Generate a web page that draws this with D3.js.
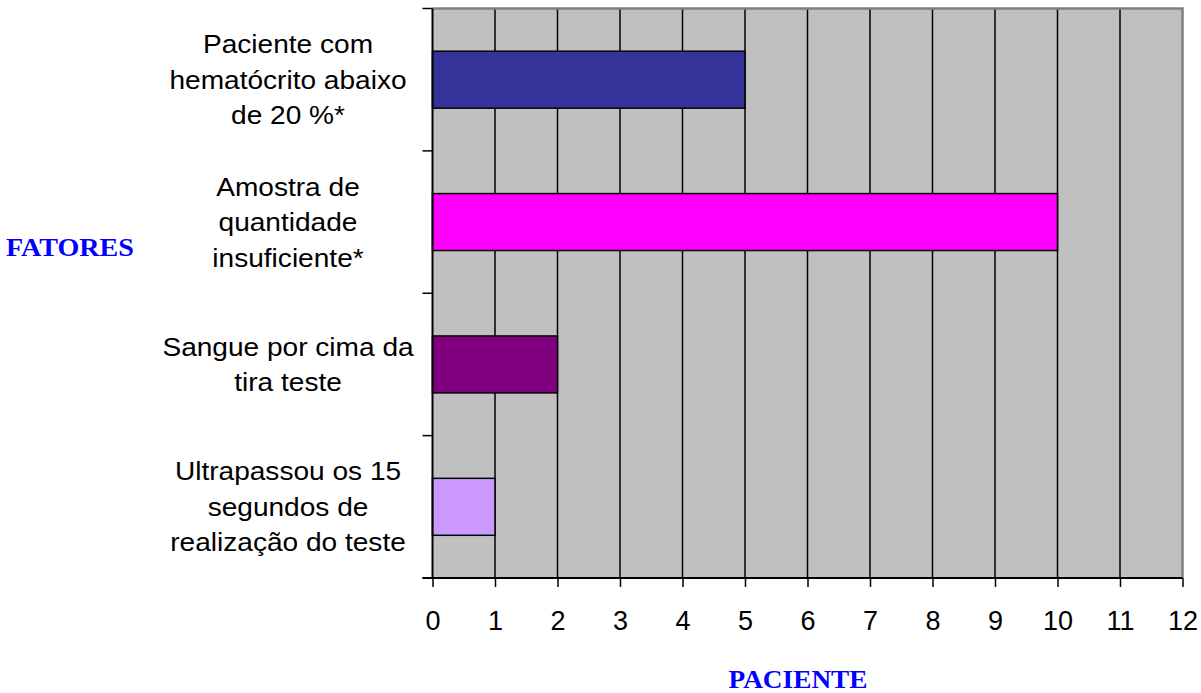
<!DOCTYPE html>
<html><head><meta charset="utf-8">
<script src="https://cdn.jsdelivr.net/npm/d3@7"></script>
<style>html,body{margin:0;padding:0;background:#fff;}svg{display:block;}</style>
</head><body>
<svg id="chart" width="1201" height="693"></svg>
<script>
const categories = [
  ["Paciente com","hematócrito abaixo","de 20 %*"],
  ["Amostra de","quantidade","insuficiente*"],
  ["Sangue por cima da","tira teste"],
  ["Ultrapassou os 15","segundos de","realização do teste"]
];
const values = [5, 10, 2, 1];
const barColors = ["#333399", "#FF00FF", "#800080", "#CC99FF"];
const xTicks = [0,1,2,3,4,5,6,7,8,9,10,11,12];
const xTitle = "PACIENTE";
const yTitle = "FATORES";

const svg = d3.select("#chart");
const L = 432.5, R = 1182.5, T = 8.5, B = 578;
const SX = 1.08;
const x = d3.scaleLinear().domain([0, 12]).range([L, R]);
const y = d3.scaleBand().domain(d3.range(categories.length)).range([T, B]).padding(0);
const bw = y.bandwidth();

// background
svg.append("rect").attr("x", L).attr("y", T).attr("width", R - L).attr("height", B - T).attr("fill", "#C0C0C0");

// grid
svg.append("g").selectAll("line").data(xTicks.slice(1, -1)).join("line")
  .attr("x1", d => x(d)).attr("x2", d => x(d)).attr("y1", T).attr("y2", B)
  .attr("stroke", "#000").attr("stroke-width", 1.5);

// border top/right
svg.append("path").attr("d", `M${L},${T}H${R}V${B}`).attr("fill", "none").attr("stroke", "#808080").attr("stroke-width", 2.5);

// bars
svg.append("g").selectAll("rect").data(values).join("rect")
  .attr("x", x(0)).attr("y", (d, i) => y(i) + bw * 0.3)
  .attr("width", d => x(d) - x(0)).attr("height", bw * 0.4)
  .attr("fill", (d, i) => barColors[i]).attr("stroke", "#000").attr("stroke-width", 1.5);

// x axis
const xAxis = d3.axisBottom(x).tickValues(xTicks).tickSize(9).tickPadding(24);
const gx = svg.append("g").attr("transform", `translate(0,${B})`).call(xAxis);
gx.select(".domain").attr("stroke", "#000").attr("stroke-width", 2).attr("d", `M${L - 10},0H${R}`);
gx.selectAll(".tick line").attr("stroke", "#000").attr("stroke-width", 1.5);
gx.selectAll(".tick text").attr("font-family", "'Liberation Sans', Arial, sans-serif").attr("font-size", 27).attr("fill", "#000");

// y axis
const yEdges = d3.range(categories.length + 1).map(i => T + i * bw);
svg.append("line").attr("x1", L).attr("x2", L).attr("y1", T).attr("y2", B).attr("stroke", "#000").attr("stroke-width", 2);
svg.append("g").selectAll("line").data(yEdges).join("line")
  .attr("x1", L - 10).attr("x2", L).attr("y1", d => d).attr("y2", d => d)
  .attr("stroke", "#000").attr("stroke-width", 1.5);

// category labels
const labelX = 288, lineH = 35.5;
const lg = svg.append("g").attr("font-family", "'Liberation Sans', Arial, sans-serif").attr("font-size", 26).attr("fill", "#000").attr("text-anchor", "middle");
categories.forEach((lines, i) => {
  const cy = y(i) + bw / 2 + 9;
  const n = lines.length;
  lines.forEach((t, j) => {
    lg.append("text")
      .attr("transform", `translate(${labelX},${cy + (j - (n - 1) / 2) * lineH}) scale(${SX},1)`)
      .text(t);
  });
});

// axis titles
svg.append("text").attr("transform", `translate(70,256) scale(${SX},1)`).attr("text-anchor", "middle")
  .attr("font-family", "'Liberation Serif', 'Times New Roman', serif").attr("font-weight", "bold").attr("font-size", 26).attr("fill", "#0000FF").text(yTitle);
svg.append("text").attr("transform", `translate(798,688) scale(1.05,1)`).attr("text-anchor", "middle")
  .attr("font-family", "'Liberation Serif', 'Times New Roman', serif").attr("font-weight", "bold").attr("font-size", 26).attr("fill", "#0000FF").text(xTitle);
</script>
</body></html>
